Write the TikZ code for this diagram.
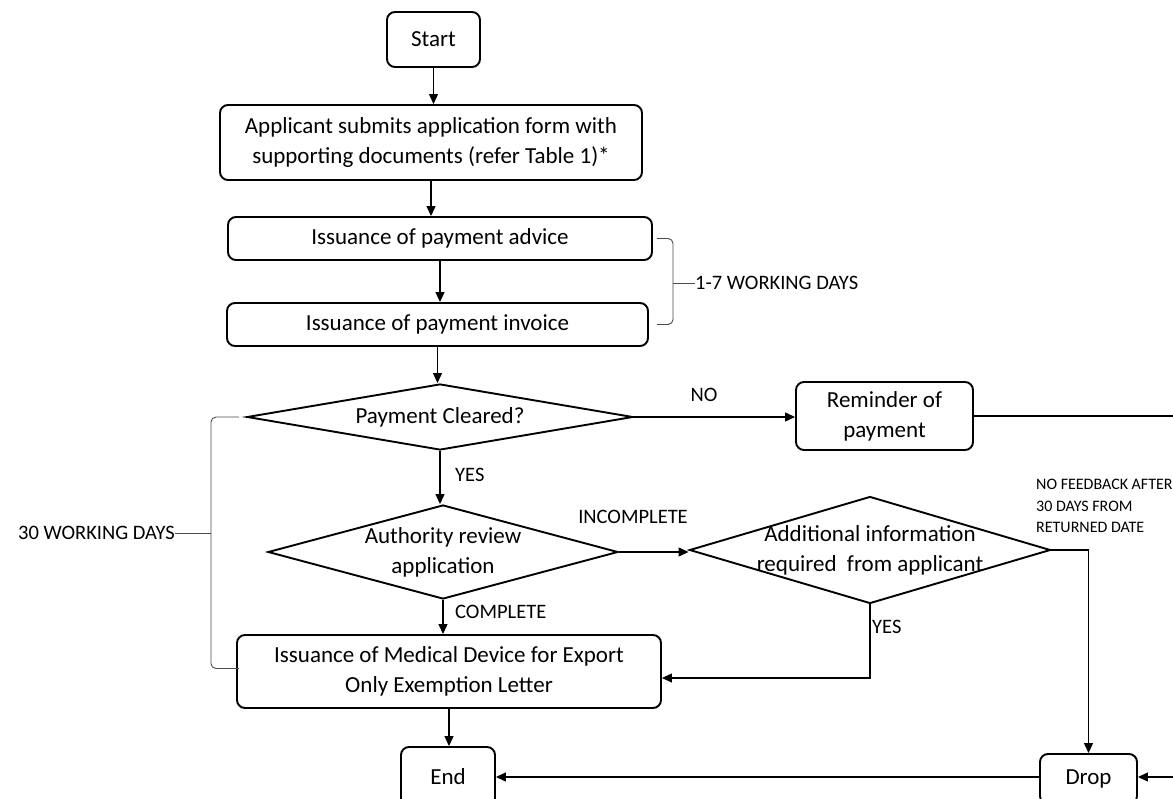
\documentclass[tikz,border=0pt]{standalone}
\usepackage{fontspec}
\setmainfont{Carlito}
\usetikzlibrary{shapes.geometric,arrows.meta}
\tikzset{stepbox/.style={shape=rectangle, draw, line width=1.9pt, rounded corners=8pt, align=center, inner sep=0pt, font=\fontsize{23}{30}\selectfont},
decision/.style={shape=diamond, draw, line width=1.9pt, inner sep=0pt},
dtext/.style={inner sep=0pt, align=center, font=\fontsize{23}{30}\selectfont},
arr/.style={line width=1.2pt, -{Triangle[length=10pt,width=9pt]}},
lbl/.style={inner sep=0pt, font=\fontsize{20.5}{25}\selectfont},
brace/.style={line width=0.9pt, draw=black!70, rounded corners=5pt}}

\begin{document}
\begin{tikzpicture}[x=1pt,y=-1pt]
\path[use as bounding box] (0,0) rectangle (1173,799);
\clip (0,0) rectangle (1173,799);
\fill[white] (0,0) rectangle (1173,799);

\node[stepbox, minimum width=93pt, minimum height=55pt] (start) at (433.5,39.5) {Start};
\node[stepbox, minimum width=422pt, minimum height=75pt] (apply) at (431,142.5) {Applicant submits application form with\\supporting documents (refer Table 1)*};
\node[stepbox, minimum width=424pt, minimum height=43pt] (advice) at (440,238.5) {Issuance of payment advice};
\node[stepbox, minimum width=421pt, minimum height=43pt] (invoice) at (437.5,324.5) {Issuance of payment invoice};
\node[decision, minimum width=386pt, minimum height=66pt, label={[dtext]center:Payment Cleared?}] (pay) at (440,417) {};
\node[stepbox, minimum width=177pt, minimum height=68pt] (reminder) at (884.5,416) {Reminder of\\payment};
\node[decision, minimum width=350pt, minimum height=94pt, label={[dtext]center:Authority review\\application}] (review) at (443,552) {};
\node[decision, minimum width=361pt, minimum height=107pt, label={[dtext]center:Additional information\\required\ \ from applicant}] (addinfo) at (870,550) {};
\node[stepbox, minimum width=424pt, minimum height=73pt] (medical) at (449,671.5) {Issuance of Medical Device for Export\\Only Exemption Letter};
\node[stepbox, minimum width=94pt, minimum height=60pt] (end) at (448,777) {End};
\node[stepbox, minimum width=97pt, minimum height=50pt] (drop) at (1088.5,779) {Drop};
\coordinate (rr) at (1200,416);

\node[lbl, anchor=west] (d17) at (695,283) {1-7 WORKING DAYS};
\node[lbl, anchor=east] (d30) at (175,533) {30 WORKING DAYS};
\node[lbl, anchor=west] (yes1) at (455,475) {YES};
\node[lbl, anchor=west] (complete) at (455,612) {COMPLETE};
\node[lbl] (no) at (704,395) {NO};
\node[lbl] (incomplete) at (633,517) {INCOMPLETE};
\node[lbl, anchor=west] (yes2) at (872,627) {YES};
\node[inner sep=0pt, anchor=north west, align=left, font=\fontsize{16}{21.5}\selectfont] (nofb) at (1036,479) {NO FEEDBACK AFTER\\30 DAYS FROM\\RETURNED DATE};

\foreach \a/\b in {start/apply,apply/advice,advice/invoice,invoice/pay,pay/review,review/medical,medical/end}
	\draw[arr] (\a.south) -- (\a.south |- \b.north);
\draw[arr] (pay.east) -- (pay.east -| reminder.west);
\draw[arr] (review.east) -- (review.east -| addinfo.west);
\draw[arr] (addinfo.south) |- ([yshift=-6.5pt]medical.east);
\draw[arr] (addinfo.east) -| (drop.north);
\draw[arr] (reminder.east) -- (rr) |- ([yshift=2pt]drop.east);
\draw[arr] ([yshift=2pt]drop.west) -- ([yshift=2pt]drop.west -| end.east);

\draw[brace] ([xshift=4pt]advice.east) -| ([xshift=-22pt]d17.west) |- ([xshift=8pt]invoice.east);
\draw[brace] ([xshift=-22pt]d17.west) -- (d17.west);
\draw[brace] ([xshift=-7pt]pay.west) -| ([xshift=36pt]d30.east) |- ([xshift=3pt,yshift=3pt]medical.west);
\draw[brace] ([xshift=36pt]d30.east) -- (d30.east);
\end{tikzpicture}
\end{document}
